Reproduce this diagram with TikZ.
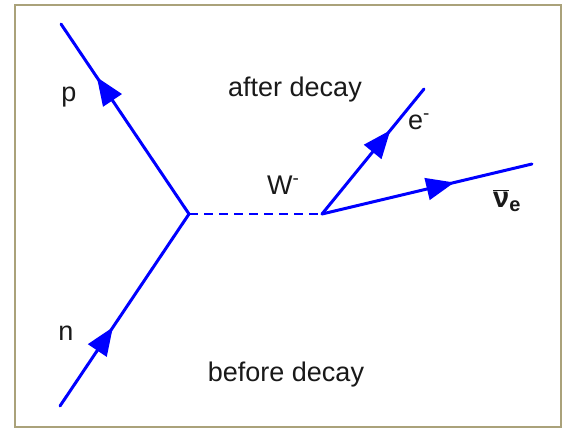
\documentclass[tikz,border=0pt]{standalone}
\usepackage{fontspec}
\setmainfont{Liberation Sans}
\usetikzlibrary{arrows.meta,decorations.markings}
\definecolor{framec}{RGB}{170,162,122}

\begin{document}
\begin{tikzpicture}[x=1pt,y=-1pt,
  font=\fontsize{27}{30}\selectfont,
  fermion/.style={draw=blue,line width=3pt,line cap=round,postaction={decorate},
    decoration={markings,mark=at position #1 with {\arrow{Triangle[length=28pt,width=22pt]}}}},
  boson/.style={draw=blue,line width=2.5pt,dash pattern=on 9pt off 6pt},
  lbl/.style={anchor=base,inner sep=0pt,text=black!90}]
\useasboundingbox[fill=white] (0,0) rectangle (563,428);
\draw[framec,line width=2pt] (15,5) rectangle (561,427);
% vertices and free ends
\coordinate (v1) at (189,214);
\coordinate (v2) at (322,214);
\coordinate (pend) at (61,24);
\coordinate (nend) at (60,406);
\coordinate (eend) at (424,89);
\coordinate (nuend) at (532,164);
% lines
\draw[fermion=0.41] (nend) -- (v1);
\draw[fermion=0.72] (v1) -- (pend);
\draw[boson] (v1) -- (v2);
\draw[fermion=0.67] (v2) -- (eend);
\draw[fermion=0.63] (v2) -- (nuend);
% labels
\node[lbl] (after) at (295,96) {after decay};
\node[lbl] (before) at (286,381) {before decay};
\node[lbl] (p) at (69,102) {p};
\node[lbl] (n) at (66,340) {n};
\node[lbl,anchor=base west] (W) at (267,194) {W\textsuperscript{-}};
\node[lbl,anchor=base west] (e) at (408,129) {e\textsuperscript{-}};
\node[lbl,anchor=base west] (nu) at (493,207)
  {\fontsize{29}{30}\selectfont\bfseries$\overline{\mbox{ν}}$\raisebox{-4pt}{\fontsize{20}{21}\selectfont e}};
\end{tikzpicture}
\end{document}
